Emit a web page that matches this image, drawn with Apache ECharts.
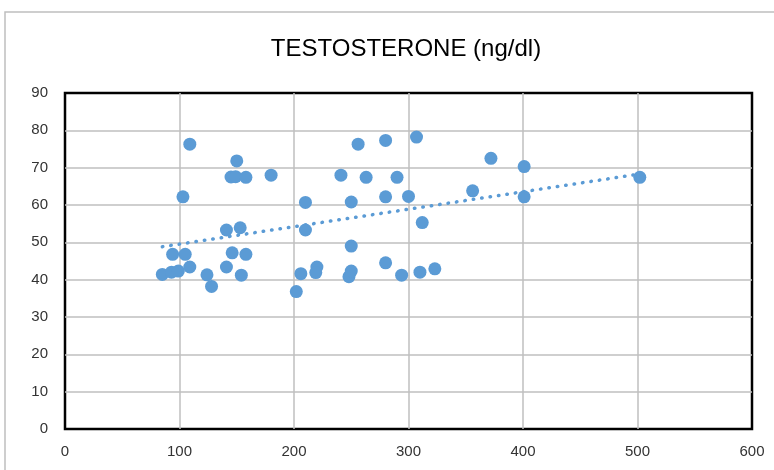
<!DOCTYPE html>
<html>
<head>
<meta charset="utf-8">
<script src="https://cdn.jsdelivr.net/npm/echarts@6/dist/echarts.min.js"></script>
<style>
  html, body { margin: 0; padding: 0; background: #fff; }
  #chart { width: 774px; height: 470px; }
</style>
</head>
<body>
<div id="chart"></div>
<script>
// testosterone values (x) and the paired measure (y)
const xValues = [85, 93, 99, 94, 105, 103, 109, 109, 124, 128, 141, 141, 146, 145, 149, 150, 153, 154, 158, 158,
  180, 202, 206, 210, 210, 220, 219, 241, 248, 250, 250, 250, 256, 263, 280, 280, 280, 290, 294, 300,
  307, 310, 312, 323, 356, 372, 401, 401, 502];
const yValues = [41.4, 42, 42.3, 46.8, 46.8, 62.2, 76.3, 43.4, 41.3, 38.2, 43.4, 53.3, 47.2, 67.5, 67.6, 71.8, 53.9, 41.2, 46.8, 67.4,
  68, 36.8, 41.6, 60.7, 53.3, 43.4, 41.9, 68, 40.8, 42.3, 49, 60.8, 76.3, 67.4, 77.3, 62.2, 44.5, 67.4, 41.2, 62.3,
  78.2, 42, 55.3, 42.9, 63.8, 72.5, 70.3, 62.2, 67.4];
const xTicks = [0, 100, 200, 300, 400, 500, 600];
const yTicks = [0, 10, 20, 30, 40, 50, 60, 70, 80, 90];

const points = xValues.map((x, i) => [x, yValues[i]]);

// linear trendline (least squares), drawn from min x to max x
const n = xValues.length;
const mx = xValues.reduce((a, b) => a + b, 0) / n;
const my = yValues.reduce((a, b) => a + b, 0) / n;
let sxy = 0, sxx = 0;
for (let i = 0; i < n; i++) {
  sxy += (xValues[i] - mx) * (yValues[i] - my);
  sxx += (xValues[i] - mx) * (xValues[i] - mx);
}
const slope = sxy / sxx;
const icpt = my - slope * mx;
const xMin = Math.min(...xValues), xMax = Math.max(...xValues);
const trend = [[xMin, icpt + slope * xMin], [xMax, icpt + slope * xMax]];

const chart = echarts.init(document.getElementById('chart'));
const labelFont = { color: '#333', fontSize: 15, fontFamily: 'Liberation Sans, sans-serif' };

chart.setOption({
  animation: false,
  graphic: [{
    type: 'rect',
    shape: { x: 5, y: 12, width: 820, height: 520 },
    style: { fill: 'none', stroke: '#BFBFBF', lineWidth: 1.5 },
    z: -1
  }],
  title: {
    text: 'TESTOSTERONE (ng/dl)',
    left: 401,
    top: 32,
    textAlign: 'center',
    textStyle: { fontSize: 24, fontWeight: 'normal', color: '#000', fontFamily: 'Liberation Sans, sans-serif' }
  },
  grid: {
    left: 65, top: 93, right: 22, bottom: 41,
    show: true, borderColor: '#000', borderWidth: 2.5
  },
  xAxis: {
    type: 'value',
    min: xTicks[0], max: xTicks[xTicks.length - 1], interval: 100,
    axisLine: { show: false },
    axisTick: { show: false },
    splitLine: { showMinLine: false, showMaxLine: false, lineStyle: { color: '#BFBFBF', width: 1.5 } },
    axisLabel: Object.assign({ margin: 15 }, labelFont)
  },
  yAxis: {
    type: 'value',
    min: yTicks[0], max: yTicks[yTicks.length - 1], interval: 10,
    axisLine: { show: false },
    axisTick: { show: false },
    splitLine: { showMinLine: false, showMaxLine: false, lineStyle: { color: '#BFBFBF', width: 1.5 } },
    axisLabel: Object.assign({ margin: 17 }, labelFont)
  },
  series: [
    {
      type: 'scatter',
      data: points,
      symbolSize: 13,
      itemStyle: { color: '#5B9BD5', opacity: 1 },
      z: 3
    },
    {
      type: 'line',
      data: trend,
      symbol: 'none',
      lineStyle: { color: '#5B9BD5', width: 3.5, type: [0.5, 8], cap: 'round' },
      z: 2
    }
  ]
});
</script>
</body>
</html>
